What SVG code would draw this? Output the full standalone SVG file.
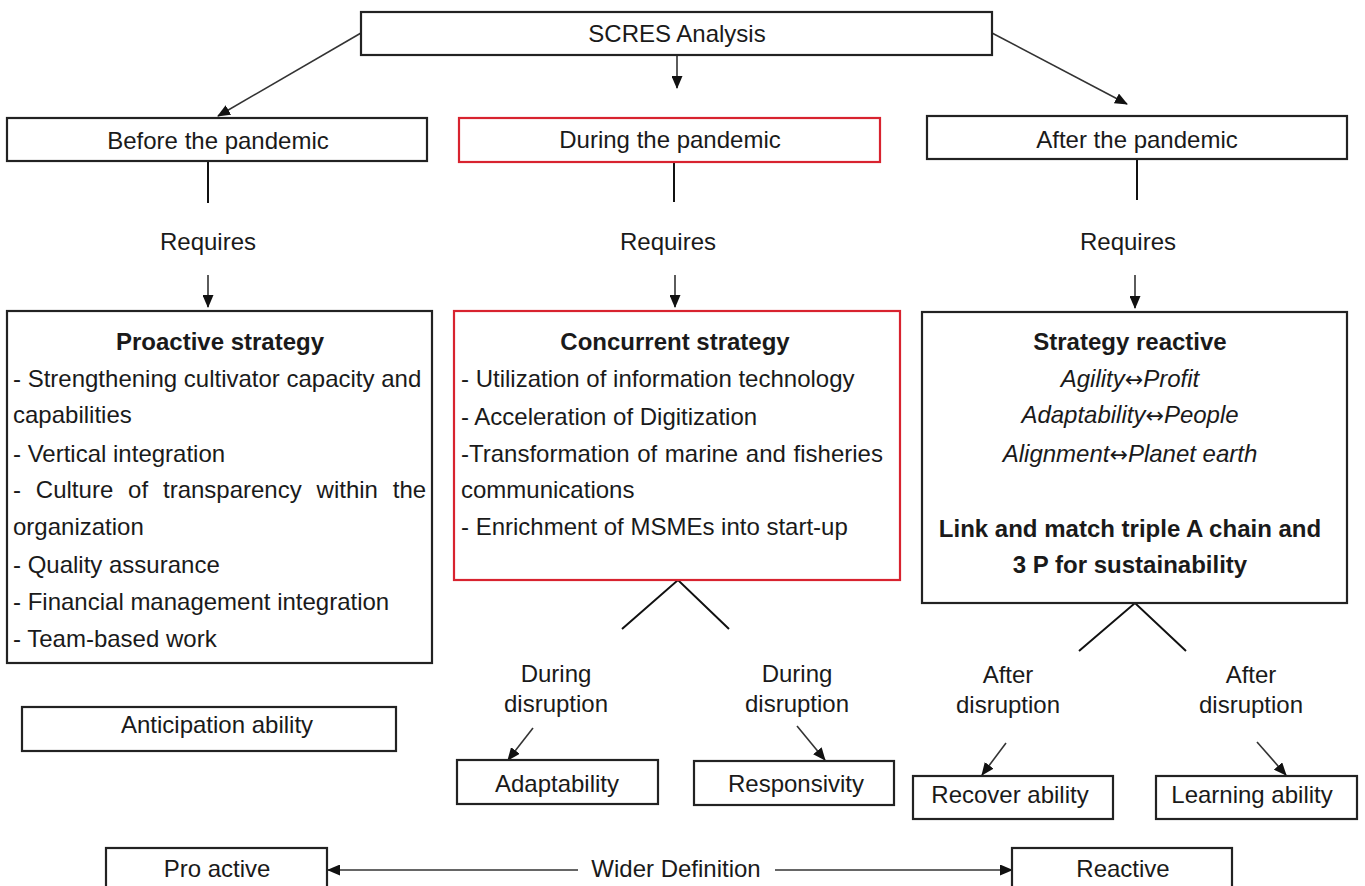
<svg xmlns="http://www.w3.org/2000/svg" width="1365" height="886" viewBox="0 0 1365 886">
<style>
text{font-family:"Liberation Sans",Arial,sans-serif;font-size:24px;fill:#1a1a1a}
.c{text-anchor:middle}
.b{font-weight:bold}
.i{font-style:italic}
.arw{font-family:"DejaVu Sans",sans-serif;font-style:normal;font-size:22px}
.box{fill:#fff;stroke:#222;stroke-width:2.2}
.red{fill:#fff;stroke:#d8232f;stroke-width:2.2}
.ln{fill:none;stroke:#111;stroke-width:2}
.ar{fill:none;stroke:#333;stroke-width:1.6;marker-end:url(#ah)}
</style>
<defs>
<marker id="ah" markerWidth="13" markerHeight="11" refX="12" refY="5.5" orient="auto" markerUnits="userSpaceOnUse"><path d="M0,0 L13,5.5 L0,11 z" fill="#111"/></marker>
</defs>
<rect width="1365" height="886" fill="#fff"/>
<g id="connectors">
<path class="ar" d="M361,33 L218,116"/>
<path class="ar" d="M677,55 L677,88"/>
<path class="ar" d="M992,33 L1127,104"/>
<path class="ln" d="M208,162 V203"/>
<path class="ln" d="M674,163 V202"/>
<path class="ln" d="M1137,159 V200"/>
<path class="ar" d="M208,275 L208,307"/>
<path class="ar" d="M675,275 L675,307"/>
<path class="ar" d="M1135,275 L1135,308"/>
<path class="ln" d="M622,629 L678,580 L729,629"/>
<path class="ln" d="M1079,651 L1135,603 L1186,651"/>
<path class="ar" d="M533,728 L508,760"/>
<path class="ar" d="M797,726 L825,760"/>
<path class="ar" d="M1006,743 L982,775"/>
<path class="ar" d="M1257,742 L1286,775"/>
<path class="ar" d="M578,870 L328,870"/>
<path class="ar" d="M775,870 L1012,870"/>
</g>
<g id="scres"><rect class="box" x="361" y="12" width="631" height="43"/><text class="c" x="677" y="42">SCRES Analysis</text></g>
<g id="before"><rect class="box" x="7" y="118" width="420" height="43"/><text class="c" x="218" y="149">Before the pandemic</text></g>
<g id="during"><rect class="red" x="459" y="118" width="421" height="44"/><text class="c" x="670" y="148">During the pandemic</text></g>
<g id="after"><rect class="box" x="927" y="116" width="420" height="43"/><text class="c" x="1137" y="148">After the pandemic</text></g>
<g id="requires-labels">
<text class="c" x="208" y="250">Requires</text>
<text class="c" x="668" y="250">Requires</text>
<text class="c" x="1128" y="250">Requires</text>
</g>
<g id="proactive">
<rect class="box" x="7" y="311" width="425" height="352"/>
<text class="c b" x="220" y="350">Proactive strategy</text>
<text x="13" y="387">- Strengthening cultivator capacity and</text>
<text x="13" y="423">capabilities</text>
<text x="13" y="462">- Vertical integration</text>
<text x="13" y="498" word-spacing="8.2">- Culture of transparency within the</text>
<text x="13" y="535">organization</text>
<text x="13" y="573">- Quality assurance</text>
<text x="13" y="610">- Financial management integration</text>
<text x="13" y="647">- Team-based work</text>
</g>
<g id="concurrent">
<rect class="red" x="454" y="311" width="446" height="269"/>
<text class="c b" x="675" y="350">Concurrent strategy</text>
<text x="461" y="387">- Utilization of information technology</text>
<text x="461" y="425">- Acceleration of Digitization</text>
<text x="461" y="462" word-spacing="1">-Transformation of marine and fisheries</text>
<text x="461" y="498">communications</text>
<text x="461" y="535">- Enrichment of MSMEs into start-up</text>
</g>
<g id="reactive-strategy">
<rect class="box" x="922" y="312" width="425" height="291"/>
<text class="c b" x="1130" y="350">Strategy reactive</text>
<text class="c i" x="1130" y="387">Agility<tspan class="arw">↔</tspan>Profit</text>
<text class="c i" x="1130" y="423">Adaptability<tspan class="arw">↔</tspan>People</text>
<text class="c i" x="1130" y="462">Alignment<tspan class="arw">↔</tspan>Planet earth</text>
<text class="c b" x="1130" y="537">Link and match triple A chain and</text>
<text class="c b" x="1130" y="573">3 P for sustainability</text>
</g>
<g id="labels-disruption">
<text class="c" x="556" y="682">During</text>
<text class="c" x="556" y="712">disruption</text>
<text class="c" x="797" y="682">During</text>
<text class="c" x="797" y="712">disruption</text>
<text class="c" x="1008" y="683">After</text>
<text class="c" x="1008" y="713">disruption</text>
<text class="c" x="1251" y="683">After</text>
<text class="c" x="1251" y="713">disruption</text>
</g>
<g id="anticipation"><rect class="box" x="22" y="707" width="374" height="44"/><text class="c" x="217" y="733">Anticipation ability</text></g>
<g id="adaptability"><rect class="box" x="457" y="760" width="201" height="44"/><text class="c" x="557" y="792">Adaptability</text></g>
<g id="responsivity"><rect class="box" x="694" y="761" width="200" height="44"/><text class="c" x="796" y="792">Responsivity</text></g>
<g id="recover"><rect class="box" x="913" y="776" width="200" height="43"/><text class="c" x="1010" y="803">Recover ability</text></g>
<g id="learning"><rect class="box" x="1156" y="776" width="201" height="43"/><text class="c" x="1252" y="803">Learning ability</text></g>
<g id="proactive-wide"><rect class="box" x="106" y="848" width="221" height="60"/><text class="c" x="217" y="877">Pro active</text></g>
<g id="wider"><text class="c" x="676" y="877">Wider Definition</text></g>
<g id="reactive-wide"><rect class="box" x="1012" y="848" width="220" height="60"/><text class="c" x="1123" y="877">Reactive</text></g>
</svg>
